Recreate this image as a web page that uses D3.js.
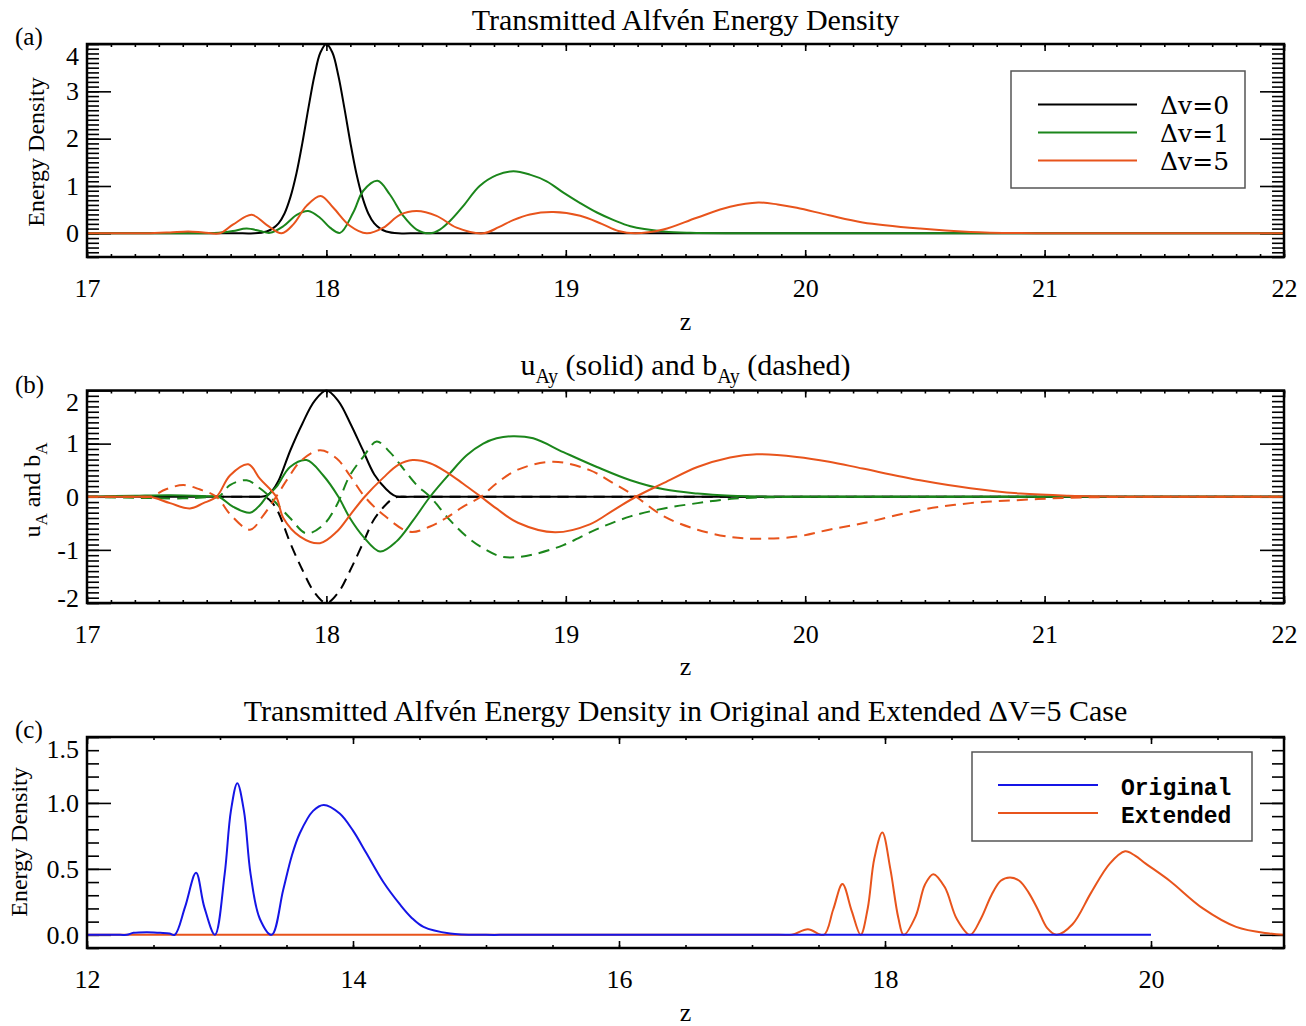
<!DOCTYPE html>
<html>
<head>
<meta charset="utf-8">
<script src="https://cdn.jsdelivr.net/npm/d3@7"></script>
<style>
  body { margin: 0; background: #fff; }
  text { font-family: "Liberation Serif", "Times New Roman", serif; fill: #000; }
</style>
</head>
<body>
<div id="chart"></div>
<script>
// ---- data: [z, value] ----
// (a) transmitted energy density
var energyDv0 = [[17,0],[17.65,0],[17.7,0],[17.75,0.04],[17.775,0.1],[17.8,0.21],[17.825,0.42],[17.85,0.77],[17.875,1.27],[17.9,1.92],[17.925,2.65],[17.95,3.33],[17.975,3.82],[18,4.0],[18.025,3.82],[18.05,3.33],[18.075,2.65],[18.1,1.92],[18.125,1.27],[18.15,0.77],[18.175,0.42],[18.2,0.21],[18.225,0.1],[18.25,0.04],[18.3,0],[18.35,0],[22,0]];
var energyDv1 = [[17,0],[17.45,0],[17.5,0],[17.55,0.01],[17.61,0.05],[17.667,0.1],[17.722,0.05],[17.764,0.01],[17.82,0.15],[17.876,0.39],[17.924,0.47],[17.973,0.33],[18.015,0.12],[18.057,0.01],[18.112,0.44],[18.154,0.9],[18.214,1.11],[18.265,0.82],[18.321,0.37],[18.377,0.08],[18.433,0],[18.474,0.08],[18.516,0.26],[18.572,0.58],[18.64,1.0],[18.711,1.23],[18.781,1.31],[18.85,1.24],[18.92,1.1],[18.99,0.86],[19.06,0.64],[19.13,0.44],[19.2,0.28],[19.27,0.15],[19.41,0.04],[19.52,0.01],[19.7,0],[19.8,0],[22,0]];
var energyDv5 = [[17,0],[17.2,0],[17.25,0],[17.347,0.02],[17.423,0.04],[17.486,0.02],[17.555,0],[17.611,0.19],[17.688,0.39],[17.75,0.18],[17.813,0],[17.862,0.19],[17.917,0.58],[17.976,0.79],[18.029,0.54],[18.098,0.16],[18.168,0],[18.238,0.12],[18.307,0.39],[18.377,0.47],[18.46,0.37],[18.544,0.12],[18.655,0],[18.72,0.13],[18.78,0.28],[18.85,0.4],[18.948,0.45],[19.06,0.37],[19.15,0.2],[19.22,0.05],[19.289,0],[19.407,0.08],[19.547,0.33],[19.686,0.56],[19.804,0.65],[19.885,0.61],[19.965,0.54],[20.1,0.38],[20.24,0.23],[20.48,0.1],[20.69,0.03],[20.9,0.005],[21.1,0],[21.2,0],[22,0]];

// (b) u_Ay (solid) and b_Ay (dashed)
var uDv0 = [[17,0],[17.68,0],[17.72,0],[17.75,0.02],[17.775,0.12],[17.8,0.3],[17.85,0.88],[17.9,1.38],[17.95,1.8],[18,2.0],[18.05,1.8],[18.1,1.38],[18.15,0.9],[18.2,0.42],[18.25,0.14],[18.28,0.03],[18.3,0],[18.35,0],[22,0]];
var bDv0 = [[17,0],[17.68,0],[17.72,0],[17.75,-0.02],[17.775,-0.12],[17.8,-0.3],[17.85,-0.88],[17.9,-1.38],[17.95,-1.8],[18,-2.0],[18.05,-1.8],[18.1,-1.38],[18.15,-0.9],[18.2,-0.42],[18.25,-0.14],[18.28,-0.03],[18.3,0],[18.35,0],[22,0]];
var uDv1 = [[17,0],[17.2,0.02],[17.35,0.03],[17.5,0.01],[17.55,0],[17.611,-0.19],[17.681,-0.3],[17.722,-0.16],[17.75,0],[17.792,0.19],[17.848,0.56],[17.917,0.69],[17.987,0.4],[18.05,0],[18.098,-0.4],[18.154,-0.75],[18.224,-1.03],[18.293,-0.84],[18.363,-0.44],[18.433,0],[18.516,0.44],[18.586,0.78],[18.655,1.0],[18.711,1.1],[18.78,1.14],[18.864,1.1],[18.99,0.84],[19.13,0.56],[19.27,0.31],[19.41,0.14],[19.55,0.06],[19.69,0.02],[19.9,0],[20.0,0],[22,0]];
var bDv1 = [[17,0],[17.2,-0.02],[17.4,-0.03],[17.5,-0.01],[17.55,0],[17.597,0.22],[17.667,0.31],[17.722,0.16],[17.764,0],[17.848,-0.4],[17.917,-0.69],[17.987,-0.53],[18.043,-0.16],[18.098,0.4],[18.154,0.75],[18.21,1.04],[18.265,0.84],[18.321,0.53],[18.377,0.22],[18.433,0],[18.516,-0.44],[18.586,-0.75],[18.655,-0.97],[18.725,-1.12],[18.788,-1.14],[18.87,-1.08],[18.99,-0.91],[19.13,-0.61],[19.27,-0.37],[19.41,-0.22],[19.55,-0.12],[19.69,-0.04],[19.85,-0.01],[20.0,0],[20.1,0],[22,0]];
var uDv5 = [[17,0],[17.2,0],[17.263,0],[17.347,-0.12],[17.43,-0.22],[17.486,-0.12],[17.541,0],[17.597,0.4],[17.674,0.61],[17.722,0.34],[17.79,0],[17.82,-0.4],[17.89,-0.75],[17.973,-0.875],[18.043,-0.66],[18.098,-0.35],[18.16,0],[18.238,0.36],[18.3,0.6],[18.36,0.69],[18.433,0.63],[18.5,0.47],[18.57,0.25],[18.645,0],[18.71,-0.22],[18.8,-0.49],[18.955,-0.67],[19.1,-0.52],[19.2,-0.25],[19.293,0],[19.41,0.26],[19.55,0.56],[19.686,0.74],[19.797,0.8],[19.965,0.75],[20.1,0.66],[20.24,0.53],[20.48,0.31],[20.69,0.16],[20.9,0.06],[21.1,0.02],[21.4,0],[21.5,0],[22,0]];
var bDv5 = [[17,0],[17.2,0],[17.263,0],[17.33,0.14],[17.402,0.22],[17.47,0.14],[17.541,0],[17.6,-0.34],[17.681,-0.62],[17.735,-0.36],[17.79,0],[17.84,0.35],[17.89,0.66],[17.973,0.875],[18.043,0.72],[18.098,0.4],[18.16,0],[18.238,-0.34],[18.349,-0.66],[18.433,-0.56],[18.5,-0.4],[18.57,-0.19],[18.645,0],[18.71,0.25],[18.8,0.51],[18.948,0.66],[19.1,0.5],[19.2,0.25],[19.293,0],[19.41,-0.37],[19.55,-0.62],[19.69,-0.76],[19.8,-0.79],[19.965,-0.75],[20.1,-0.62],[20.24,-0.5],[20.48,-0.25],[20.69,-0.12],[20.9,-0.06],[21.1,-0.02],[21.4,0],[21.5,0],[22,0]];

// (c) original vs extended dv=5 run
var energyOriginal = [[12,0],[12.25,0],[12.3,0],[12.35,0.015],[12.45,0.02],[12.55,0.015],[12.62,0.01],[12.66,0],[12.737,0.21],[12.82,0.47],[12.882,0.21],[12.962,0],[13.035,0.46],[13.082,0.94],[13.13,1.15],[13.18,0.94],[13.23,0.46],[13.3,0.12],[13.389,0],[13.475,0.34],[13.54,0.6],[13.6,0.77],[13.7,0.94],[13.78,0.985],[13.9,0.92],[14.0,0.79],[14.1,0.62],[14.228,0.4],[14.353,0.23],[14.44,0.13],[14.53,0.06],[14.73,0.01],[15,0],[15.2,0],[20,0]];
var energyExtended = [[12,0],[17.2,0],[17.3,0],[17.42,0.043],[17.54,0],[17.61,0.19],[17.68,0.385],[17.75,0.18],[17.817,0],[17.87,0.2],[17.92,0.58],[17.98,0.775],[18.04,0.5],[18.1,0.13],[18.14,0],[18.23,0.14],[18.3,0.38],[18.363,0.46],[18.45,0.36],[18.54,0.12],[18.64,0],[18.72,0.12],[18.8,0.3],[18.87,0.41],[18.94,0.435],[19.01,0.41],[19.08,0.32],[19.15,0.19],[19.22,0.05],[19.29,0],[19.41,0.08],[19.55,0.32],[19.69,0.54],[19.805,0.633],[19.88,0.6],[19.96,0.54],[20.14,0.41],[20.39,0.2],[20.64,0.06],[20.89,0.01],[21,0]];

// ---- tick values and legend labels ----
var xTicksAB = [17, 18, 19, 20, 21, 22];
var xTicksC = [12, 14, 16, 18, 20];
var yTicksA = [0, 1, 2, 3, 4];
var yTicksB = [-2, -1, 0, 1, 2];
var yTicksC = [0, 0.5, 1.0, 1.5];
var legendA = ["\u0394v=0", "\u0394v=1", "\u0394v=5"];
var legendC = ["Original", "Extended"];

var BLACK = "#000", GREEN = "#1b861b", ORANGE = "#e8541c", BLUE = "#1515e6";

function renderChart(){

    var svg = d3.select("#chart").append("svg")
        .attr("width", 1306)
        .attr("height", 1026);

    var left = 87, right = 1284;

    //Step1:- frame, scales and IDL style inward ticks
    function makePanel(id, top, bottom, xDomain, yDomain, xMajor, xMinor, yMajor, yMinor, yFmt){
        var x = d3.scaleLinear().domain(xDomain).range([left, right]);
        var y = d3.scaleLinear().domain(yDomain).range([bottom, top]);
        var g = svg.append("g");

        svg.append("clipPath").attr("id", "clip" + id)
            .append("rect").attr("x", left).attr("y", top - 2)
            .attr("width", right - left).attr("height", bottom - top + 2);

        function styleAxis(sel){
            sel.select(".domain").remove();
            sel.selectAll("line").attr("stroke", "#000").attr("stroke-width", 1.6);
            sel.attr("font-family", "Liberation Serif, serif").attr("font-size", 26);
            sel.selectAll("text").attr("fill", "#000");
        }

        g.append("g").attr("transform", `translate(0,${bottom})`)
            .call(d3.axisBottom(x).tickValues(xMajor).tickSize(-7).tickPadding(22).tickFormat(d => String(d)))
            .call(styleAxis);
        g.append("g").attr("transform", `translate(0,${bottom})`)
            .call(d3.axisBottom(x).tickValues(xMinor).tickSize(-3).tickFormat(""))
            .call(styleAxis);
        g.append("g").attr("transform", `translate(0,${top})`)
            .call(d3.axisTop(x).tickValues(xMajor).tickSize(-7).tickFormat(""))
            .call(styleAxis);
        g.append("g").attr("transform", `translate(0,${top})`)
            .call(d3.axisTop(x).tickValues(xMinor).tickSize(-3).tickFormat(""))
            .call(styleAxis);

        var leftAxis = g.append("g").attr("transform", `translate(${left},0)`)
            .call(d3.axisLeft(y).tickValues(yMajor).tickSize(-24).tickPadding(8).tickFormat(yFmt))
            .call(styleAxis);
        g.append("g").attr("transform", `translate(${left},0)`)
            .call(d3.axisLeft(y).tickValues(yMinor).tickSize(-12).tickFormat(""))
            .call(styleAxis);
        g.append("g").attr("transform", `translate(${right},0)`)
            .call(d3.axisRight(y).tickValues(yMajor).tickSize(-24).tickFormat(""))
            .call(styleAxis);
        g.append("g").attr("transform", `translate(${right},0)`)
            .call(d3.axisRight(y).tickValues(yMinor).tickSize(-12).tickFormat(""))
            .call(styleAxis);

        // labels sitting on the frame edges are nudged inside like the original
        leftAxis.selectAll(".tick").filter(d => d === yDomain[1]).select("text").attr("y", 12);
        leftAxis.selectAll(".tick").filter(d => d === yDomain[0]).select("text").attr("y", -5);

        var curves = svg.append("g").attr("clip-path", `url(#clip${id})`);

        svg.append("rect")
            .attr("x", left).attr("y", top)
            .attr("width", right - left).attr("height", bottom - top)
            .attr("fill", "none").attr("stroke", "#000").attr("stroke-width", 2.5);

        return {x: x, y: y, curves: curves};
    }

    function drawLine(panel, data, color, dashed){
        var line = d3.line()
            .x(d => panel.x(d[0]))
            .y(d => panel.y(d[1]))
            .curve(d3.curveCatmullRom.alpha(0.5));
        panel.curves.append("path")
            .datum(data)
            .attr("d", line)
            .attr("fill", "none")
            .attr("stroke", color)
            .attr("stroke-width", 2)
            .attr("stroke-dasharray", dashed ? "11,7" : null);
    }

    function rangeTicks(a, b, step){
        return d3.range(Math.round(a / step), Math.round(b / step) + 1).map(d => +(d * step).toFixed(2));
    }

    //Step2:- panel (a)
    var pa = makePanel("a", 44, 257, [17, 22], [-0.5, 4.0], xTicksAB, rangeTicks(17, 22, 0.1),
        yTicksA, rangeTicks(-0.5, 4.0, 0.1), d => String(d));
    drawLine(pa, energyDv0, BLACK);
    drawLine(pa, energyDv1, GREEN);
    drawLine(pa, energyDv5, ORANGE);

    //Step3:- panel (b)
    var pb = makePanel("b", 390.5, 603, [17, 22], [-2, 2], xTicksAB, rangeTicks(17, 22, 0.1),
        yTicksB, rangeTicks(-2, 2, 0.1), d => String(d));
    drawLine(pb, uDv0, BLACK);
    drawLine(pb, bDv0, BLACK, true);
    drawLine(pb, uDv1, GREEN);
    drawLine(pb, bDv1, GREEN, true);
    drawLine(pb, uDv5, ORANGE);
    drawLine(pb, bDv5, ORANGE, true);

    //Step4:- panel (c)
    var pc = makePanel("c", 737, 948, [12, 21], [-0.1, 1.5], xTicksC, rangeTicks(12, 21, 0.5),
        yTicksC, rangeTicks(-0.1, 1.5, 0.1), d3.format(".1f"));
    drawLine(pc, energyExtended, ORANGE);
    drawLine(pc, energyOriginal, BLUE);

    //Step5:- titles and axis labels
    var mid = (left + right) / 2;
    svg.append("text").attr("x", mid).attr("y", 30).attr("text-anchor", "middle")
        .attr("font-size", 30).text("Transmitted Alfv\u00e9n Energy Density");

    var tb = svg.append("text").attr("x", mid).attr("y", 375).attr("text-anchor", "middle").attr("font-size", 30);
    tb.append("tspan").text("u");
    tb.append("tspan").attr("dy", 8).attr("font-size", 20).text("Ay");
    tb.append("tspan").attr("dy", -8).text(" (solid) and b");
    tb.append("tspan").attr("dy", 8).attr("font-size", 20).text("Ay");
    tb.append("tspan").attr("dy", -8).text(" (dashed)");

    svg.append("text").attr("x", mid).attr("y", 721).attr("text-anchor", "middle")
        .attr("font-size", 30).text("Transmitted Alfv\u00e9n Energy Density in Original and Extended \u0394V=5 Case");

    [[330, "(a)", 45], [675, "(b)", 393], [1021, "(c)", 738]].forEach(function(d){
        svg.append("text").attr("x", mid).attr("y", d[0]).attr("text-anchor", "middle")
            .attr("font-size", 26).text("z");
        svg.append("text").attr("x", 15).attr("y", d[2]).attr("font-size", 25).text(d[1]);
    });

    svg.append("text").attr("transform", "translate(44,152) rotate(-90)")
        .attr("text-anchor", "middle").attr("font-size", 24).text("Energy Density");
    var yb = svg.append("text").attr("transform", "translate(40,490) rotate(-90)")
        .attr("text-anchor", "middle").attr("font-size", 24);
    yb.append("tspan").text("u");
    yb.append("tspan").attr("dy", 7).attr("font-size", 17).text("A");
    yb.append("tspan").attr("dy", -7).text(" and b");
    yb.append("tspan").attr("dy", 7).attr("font-size", 17).text("A");
    svg.append("text").attr("transform", "translate(27,842) rotate(-90)")
        .attr("text-anchor", "middle").attr("font-size", 24).text("Energy Density");

    //Step6:- legends
    var lgA = svg.append("g");
    lgA.append("rect").attr("x", 1011).attr("y", 71).attr("width", 234).attr("height", 117)
        .attr("fill", "#fff").attr("stroke", "#555").attr("stroke-width", 1.5);
    [BLACK, GREEN, ORANGE].forEach(function(c, i){
        var ly = 104.5 + i * 28;
        lgA.append("line").attr("x1", 1038).attr("x2", 1137).attr("y1", ly).attr("y2", ly)
            .attr("stroke", c).attr("stroke-width", 2);
        lgA.append("text").attr("x", 1160).attr("y", ly + 9)
            .style("font-family", "'DejaVu Serif', serif").attr("font-size", 25).text(legendA[i]);
    });

    var lgC = svg.append("g");
    lgC.append("rect").attr("x", 972).attr("y", 752).attr("width", 280).attr("height", 89)
        .attr("fill", "#fff").attr("stroke", "#555").attr("stroke-width", 1.5);
    [BLUE, ORANGE].forEach(function(c, i){
        var ly = 785 + i * 28;
        lgC.append("line").attr("x1", 998).attr("x2", 1098).attr("y1", ly).attr("y2", ly)
            .attr("stroke", c).attr("stroke-width", 2);
        lgC.append("text").attr("x", 1121).attr("y", ly + 10)
            .style("font-family", "'Liberation Mono', monospace").attr("font-weight", "bold")
            .attr("font-size", 23).text(legendC[i]);
    });
}

renderChart();
</script>
</body>
</html>
